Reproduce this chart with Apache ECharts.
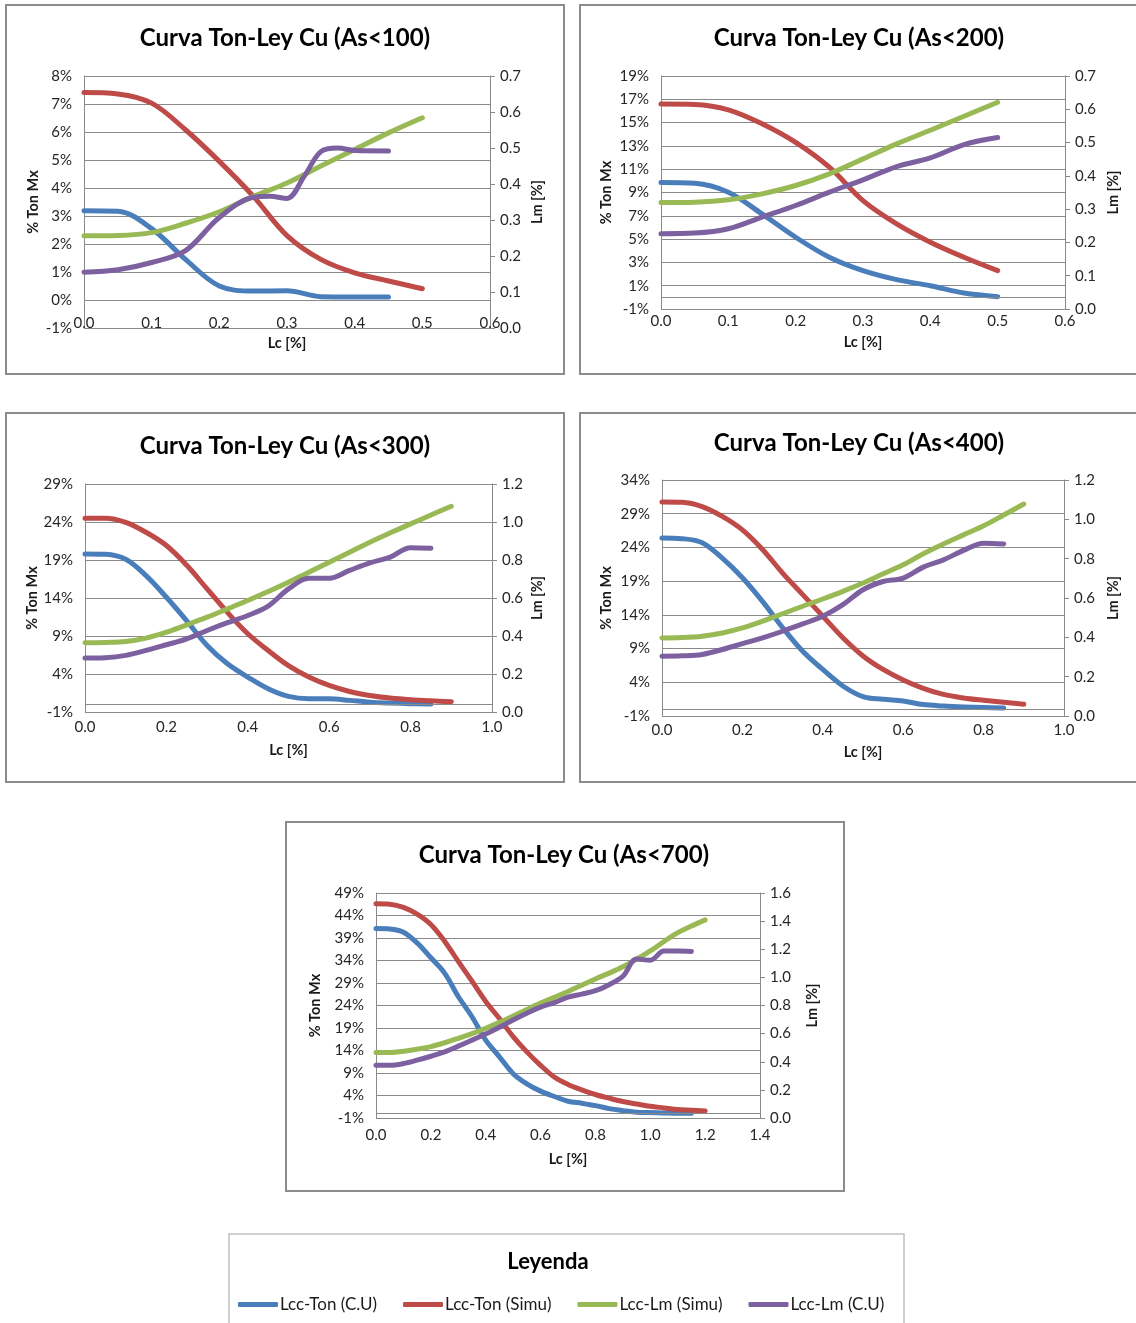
<!DOCTYPE html>
<html><head><meta charset="utf-8">
<script src="https://cdn.jsdelivr.net/npm/echarts@6/dist/echarts.min.js"></script>
<style>html,body{margin:0;padding:0;background:#fff}#c{width:1136px;height:1323px}</style>
</head><body><div id="c"></div>
<script>
// ---------- DATA ([Lc, value]) ----------
const seriesNames = ['Lcc-Ton (C.U)', 'Lcc-Ton (Simu)', 'Lcc-Lm (Simu)', 'Lcc-Lm (C.U)'];
const titles = ['Curva Ton-Ley Cu (As<100)', 'Curva Ton-Ley Cu (As<200)', 'Curva Ton-Ley Cu (As<300)', 'Curva Ton-Ley Cu (As<400)', 'Curva Ton-Ley Cu (As<700)'];

// As<100
const ton_cu_100 = [[0,3.19],[0.05,3.17],[0.1,2.55],[0.15,1.45],[0.2,0.5],[0.25,0.32],[0.3,0.33],[0.35,0.12],[0.4,0.11],[0.45,0.11]];
const ton_simu_100 = [[0,7.41],[0.05,7.36],[0.1,7.03],[0.15,6.08],[0.2,4.95],[0.25,3.71],[0.3,2.3],[0.35,1.45],[0.4,0.97],[0.45,0.68],[0.5,0.40]];
const lm_simu_100 = [[0,0.256],[0.05,0.257],[0.1,0.265],[0.15,0.291],[0.2,0.323],[0.25,0.365],[0.3,0.403],[0.35,0.45],[0.4,0.496],[0.45,0.542],[0.5,0.584]];
const lm_cu_100 = [[0,0.155],[0.05,0.162],[0.1,0.182],[0.15,0.215],[0.2,0.307],[0.25,0.363],[0.275,0.366],[0.3,0.36],[0.325,0.42],[0.35,0.49],[0.375,0.5],[0.4,0.493],[0.45,0.492]];

// As<200
const ton_cu_200 = [[0,9.86],[0.05,9.8],[0.1,9.03],[0.15,7.16],[0.2,5.16],[0.25,3.44],[0.3,2.29],[0.35,1.52],[0.4,1.0],[0.45,0.37],[0.5,0.06]];
const ton_simu_200 = [[0,16.6],[0.05,16.56],[0.1,16.1],[0.15,14.9],[0.2,13.3],[0.25,11.17],[0.3,8.3],[0.35,6.3],[0.4,4.73],[0.45,3.44],[0.5,2.29]];
const lm_simu_200 = [[0,0.32],[0.05,0.321],[0.1,0.328],[0.15,0.346],[0.2,0.371],[0.25,0.406],[0.3,0.451],[0.35,0.496],[0.4,0.537],[0.45,0.579],[0.5,0.621]];
const lm_cu_200 = [[0,0.226],[0.05,0.228],[0.1,0.241],[0.15,0.276],[0.2,0.311],[0.25,0.351],[0.3,0.388],[0.35,0.428],[0.4,0.454],[0.45,0.494],[0.5,0.515]];

// As<300
const ton_cu_300 = [[0,19.8],[0.05,19.75],[0.1,19.1],[0.15,16.95],[0.2,14.1],[0.25,11.0],[0.3,7.75],[0.35,5.34],[0.4,3.6],[0.45,2.06],[0.5,1.05],[0.55,0.74],[0.6,0.74],[0.65,0.53],[0.7,0.3],[0.75,0.18],[0.8,0.1],[0.85,0.04]];
const ton_simu_300 = [[0,24.5],[0.05,24.5],[0.1,23.96],[0.15,22.65],[0.2,20.9],[0.25,18.3],[0.3,15.2],[0.35,12.1],[0.4,9.3],[0.45,7.1],[0.5,5.1],[0.55,3.6],[0.6,2.5],[0.65,1.7],[0.7,1.18],[0.75,0.83],[0.8,0.61],[0.85,0.48],[0.9,0.35]];
const lm_simu_300 = [[0,0.364],[0.05,0.366],[0.1,0.371],[0.15,0.389],[0.2,0.42],[0.25,0.459],[0.3,0.499],[0.35,0.543],[0.4,0.587],[0.45,0.634],[0.5,0.683],[0.55,0.736],[0.6,0.788],[0.65,0.841],[0.7,0.894],[0.75,0.943],[0.8,0.99],[0.85,1.037],[0.9,1.083]];
const lm_cu_300 = [[0,0.284],[0.05,0.286],[0.1,0.298],[0.15,0.324],[0.2,0.354],[0.25,0.385],[0.3,0.429],[0.35,0.47],[0.4,0.508],[0.45,0.557],[0.5,0.648],[0.55,0.704],[0.6,0.704],[0.65,0.745],[0.7,0.785],[0.75,0.815],[0.8,0.865],[0.85,0.862]];

// As<400
const ton_cu_400 = [[0,25.4],[0.05,25.3],[0.1,24.7],[0.15,22.4],[0.2,19.5],[0.25,16.0],[0.3,12.1],[0.35,8.6],[0.4,5.9],[0.45,3.45],[0.5,1.87],[0.55,1.48],[0.6,1.23],[0.65,0.69],[0.7,0.49],[0.75,0.35],[0.8,0.25],[0.85,0.2]];
const ton_simu_400 = [[0,30.75],[0.05,30.7],[0.1,30.06],[0.15,28.6],[0.2,26.6],[0.25,23.7],[0.3,20.2],[0.35,17.0],[0.4,13.8],[0.45,10.6],[0.5,7.9],[0.55,5.9],[0.6,4.34],[0.65,3.1],[0.7,2.2],[0.75,1.68],[0.8,1.33],[0.85,1.03],[0.9,0.74]];
const lm_simu_400 = [[0,0.397],[0.05,0.399],[0.1,0.406],[0.15,0.422],[0.2,0.448],[0.25,0.482],[0.3,0.52],[0.35,0.558],[0.4,0.595],[0.45,0.634],[0.5,0.676],[0.55,0.723],[0.6,0.769],[0.65,0.825],[0.7,0.875],[0.75,0.921],[0.8,0.967],[0.85,1.022],[0.9,1.078]];
const lm_cu_400 = [[0,0.304],[0.05,0.306],[0.1,0.313],[0.15,0.338],[0.2,0.368],[0.25,0.397],[0.3,0.431],[0.35,0.468],[0.4,0.507],[0.45,0.566],[0.5,0.642],[0.55,0.684],[0.6,0.701],[0.65,0.757],[0.7,0.794],[0.75,0.842],[0.8,0.879],[0.85,0.875]];

// As<700
const ton_cu_700 = [[0,41.1],[0.05,41.0],[0.1,40.3],[0.15,37.9],[0.2,34.6],[0.25,31.2],[0.3,26.0],[0.35,21.5],[0.4,16.3],[0.45,12.6],[0.5,8.85],[0.55,6.6],[0.6,4.97],[0.65,3.78],[0.7,2.73],[0.75,2.28],[0.8,1.76],[0.85,1.09],[0.9,0.64],[0.95,0.27],[1.0,0.2],[1.05,0.12],[1.1,0.05],[1.15,0.05]];
const ton_simu_700 = [[0,46.6],[0.05,46.5],[0.1,45.8],[0.15,44.3],[0.2,42.0],[0.25,38.3],[0.3,33.8],[0.35,29.4],[0.4,24.9],[0.45,21.1],[0.5,17.1],[0.55,13.7],[0.6,10.7],[0.65,8.1],[0.7,6.46],[0.75,5.27],[0.8,4.22],[0.85,3.4],[0.9,2.66],[0.95,2.13],[1.0,1.61],[1.05,1.24],[1.1,0.87],[1.15,0.72],[1.2,0.57]];
const lm_simu_700 = [[0,0.466],[0.05,0.466],[0.1,0.475],[0.15,0.49],[0.2,0.508],[0.25,0.535],[0.3,0.567],[0.35,0.6],[0.4,0.638],[0.45,0.68],[0.5,0.726],[0.55,0.772],[0.6,0.817],[0.65,0.858],[0.7,0.9],[0.75,0.945],[0.8,0.989],[0.85,1.03],[0.9,1.075],[0.95,1.13],[1.0,1.188],[1.05,1.255],[1.1,1.318],[1.15,1.365],[1.2,1.409]];
const lm_cu_700 = [[0,0.375],[0.05,0.375],[0.1,0.387],[0.15,0.411],[0.2,0.439],[0.25,0.47],[0.3,0.511],[0.35,0.554],[0.4,0.597],[0.45,0.645],[0.5,0.697],[0.55,0.745],[0.6,0.788],[0.65,0.821],[0.7,0.86],[0.75,0.881],[0.8,0.905],[0.85,0.948],[0.9,1.008],[0.95,1.13],[1.0,1.122],[1.05,1.187],[1.1,1.187],[1.15,1.184]];

// axis ranges [min, max, interval]
const xRanges  = [[0,0.6,0.1],[0,0.6,0.1],[0,1.0,0.2],[0,1.0,0.2],[0,1.4,0.2]];
const yLRanges = [[-1,8,1],[-1,19,2],[-1,29,5],[-1,34,5],[-1,49,5]];
const yRRanges = [[0,0.7,0.1],[0,0.7,0.1],[0,1.2,0.2],[0,1.2,0.2],[0,1.6,0.2]];

const panelData = [
  [ton_cu_100, ton_simu_100, lm_simu_100, lm_cu_100],
  [ton_cu_200, ton_simu_200, lm_simu_200, lm_cu_200],
  [ton_cu_300, ton_simu_300, lm_simu_300, lm_cu_300],
  [ton_cu_400, ton_simu_400, lm_simu_400, lm_cu_400],
  [ton_cu_700, ton_simu_700, lm_simu_700, lm_cu_700]
];

// ---------- LAYOUT ----------
const layout = [
  {box:[6,5,558,369], tc:[285,38], grid:[84,76,406,252], xm:-12, xng:8, ylng:43, yrng:40},
  {box:[580,5,600,369], tc:[859,38], grid:[661,76,404,233], xm:5, xng:26, ylng:47, yrng:41},
  {box:[6,413,558,369], tc:[285,446], grid:[85,484,407,228], xm:8, xng:31, ylng:44, yrng:38},
  {box:[580,413,600,369], tc:[859,443], grid:[662,480,402,236], xm:7, xng:29, ylng:48, yrng:42},
  {box:[286,822,558,369], tc:[564,855], grid:[376,893,384,225], xm:10, xng:34, ylng:53, yrng:45}
];
const colors = ['#4A7EBB', '#BE4B48', '#98B954', '#7D60A0'];
const gridC = '#8a8a8a';
const txtC = '#262626';
const FONT = 'Lato';
const TICK_FS = 15;

const grids = [], xAxes = [], yAxes = [], series = [], graphics = [];
layout.forEach((L, i) => {
  const off = -yLRanges[i][0]; // shift so that left axis ticks start at its min
  grids.push({left: L.grid[0], top: L.grid[1], width: L.grid[2], height: L.grid[3], containLabel: false});
  xAxes.push({type:'value', gridIndex:i, min:xRanges[i][0], max:xRanges[i][1], interval:xRanges[i][2],
    axisLine:{show:false}, axisTick:{show:false}, splitLine:{show:false},
    axisLabel:{margin:L.xm, color:txtC, fontFamily:FONT, fontSize:TICK_FS, formatter:v=>v.toFixed(1)},
    name:'Lc [%]', nameLocation:'middle', nameGap:L.xng,
    nameTextStyle:{fontFamily:FONT, fontWeight:'bold', fontSize:14.5, color:'#1a1a1a'}});
  yAxes.push({type:'value', gridIndex:i, position:'left', min:0, max:yLRanges[i][1]+off, interval:yLRanges[i][2],
    axisLine:{show:true, lineStyle:{color:gridC, width:1}}, axisTick:{show:false},
    splitLine:{show:true, lineStyle:{color:gridC, width:1}},
    axisLabel:{margin:12, color:txtC, fontFamily:FONT, fontSize:TICK_FS, formatter:v=>Math.round(v-off)+'%'},
    name:'% Ton Mx', nameLocation:'middle', nameGap:L.ylng, nameRotate:90,
    nameTextStyle:{fontFamily:FONT, fontWeight:'bold', fontSize:14.5, color:'#1a1a1a'}});
  yAxes.push({type:'value', gridIndex:i, position:'right', min:yRRanges[i][0], max:yRRanges[i][1], interval:yRRanges[i][2],
    axisLine:{show:true, lineStyle:{color:gridC, width:1}}, axisTick:{show:true, inside:false, length:5, lineStyle:{color:gridC}},
    splitLine:{show:false},
    axisLabel:{margin:10, color:txtC, fontFamily:FONT, fontSize:TICK_FS, formatter:v=>v.toFixed(1)},
    name:'Lm [%]', nameLocation:'middle', nameGap:L.yrng, nameRotate:90,
    nameTextStyle:{fontFamily:FONT, fontWeight:'bold', fontSize:14.5, color:'#1a1a1a'}});
  // horizontal axis line crossing at 0 %
  series.push({type:'line', name:'axis0', xAxisIndex:i, yAxisIndex:2*i, data:[], z:1, silent:true,
    markLine:{silent:true, symbol:'none', label:{show:false}, animation:false,
      lineStyle:{color:gridC, width:1, type:'solid'}, data:[{yAxis:0+off}]}});
  panelData[i].forEach((d, k) => {
    const left = k < 2;
    series.push({type:'line', name:seriesNames[k], xAxisIndex:i, yAxisIndex: left ? 2*i : 2*i+1,
      data: d.map(p => [p[0], left ? p[1] + off : p[1]]),
      smooth:0.35, symbol:'none', showSymbol:false, z:3+k,
      lineStyle:{color:colors[k], width:5, cap:'round', join:'round'}, itemStyle:{color:colors[k]}});
  });
  graphics.push({type:'rect', shape:{x:L.box[0], y:L.box[1], width:L.box[2], height:L.box[3]},
    style:{fill:'none', stroke:'#8c8c8c', lineWidth:2}, z:-1});
  graphics.push({type:'text', x:L.tc[0], y:L.tc[1],
    style:{text:titles[i], font:'bold 24px Lato', fill:'#000', textAlign:'center', textVerticalAlign:'middle', align:'center', verticalAlign:'middle'}});
});
// legend box
graphics.push({type:'rect', shape:{x:229, y:1234, width:675, height:120}, style:{fill:'none', stroke:'#c0c0c0', lineWidth:1.5}, z:-1});
graphics.push({type:'text', x:548, y:1262,
  style:{text:'Leyenda', font:'bold 22px Lato', fill:'#000', textAlign:'center', textVerticalAlign:'middle', align:'center', verticalAlign:'middle'}});

const chart = echarts.init(document.getElementById('c'), null, {renderer:'canvas'});
chart.setOption({
  animation:false,
  backgroundColor:'#fff',
  grid:grids, xAxis:xAxes, yAxis:yAxes, series:series, graphic:graphics,
  legend:{data:seriesNames, left:233, top:1291, icon:'roundRect', itemWidth:40, itemHeight:5, itemGap:26,
    textStyle:{fontFamily:FONT, fontSize:17, color:'#1a1a1a', padding:[0,0,0,-3]}, selectedMode:false}
});
</script></body></html>
